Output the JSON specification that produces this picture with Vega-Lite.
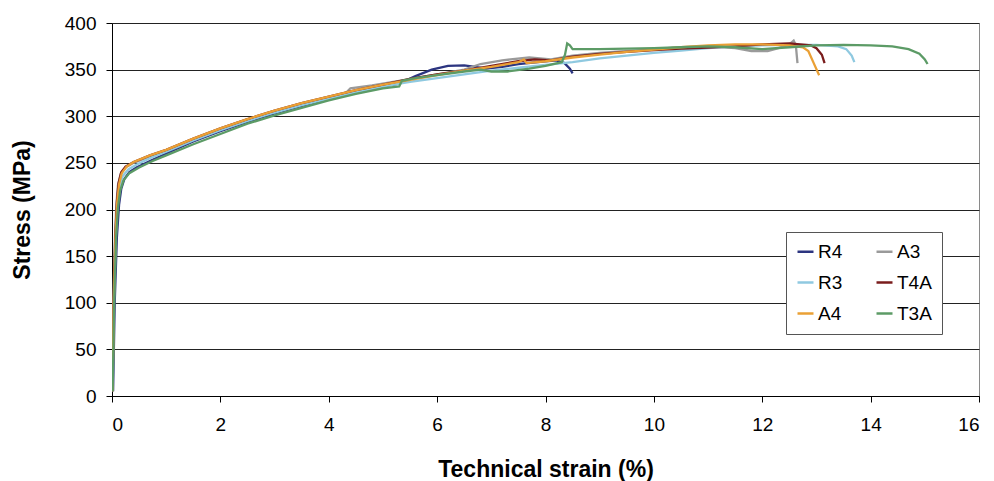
{
  "$schema": "https://vega.github.io/schema/vega-lite/v6.json",
  "width": 867,
  "height": 373,
  "autosize": {"type": "none"},
  "padding": {"left": 112, "top": 23, "right": 15, "bottom": 85},
  "background": "white",
  "config": {
    "font": "Liberation Sans",
    "view": {"stroke": "#8a8a8a", "strokeWidth": 1}
  },
  "data": {
    "values": [
      {"s": "R4", "x": 0.02, "y": 5}, {"s": "R4", "x": 0.05, "y": 100}, {"s": "R4", "x": 0.09, "y": 170}, {"s": "R4", "x": 0.13, "y": 205}, {"s": "R4", "x": 0.17, "y": 222}, {"s": "R4", "x": 0.23, "y": 233}, {"s": "R4", "x": 0.32, "y": 240}, {"s": "R4", "x": 0.45, "y": 245}, {"s": "R4", "x": 0.7, "y": 252}, {"s": "R4", "x": 1, "y": 260}, {"s": "R4", "x": 1.5, "y": 273}, {"s": "R4", "x": 2, "y": 284}, {"s": "R4", "x": 2.5, "y": 294}, {"s": "R4", "x": 3, "y": 303}, {"s": "R4", "x": 3.5, "y": 311}, {"s": "R4", "x": 4, "y": 319}, {"s": "R4", "x": 4.5, "y": 326}, {"s": "R4", "x": 5, "y": 332}, {"s": "R4", "x": 5.3, "y": 335}, {"s": "R4", "x": 5.6, "y": 343}, {"s": "R4", "x": 5.9, "y": 350}, {"s": "R4", "x": 6.2, "y": 354}, {"s": "R4", "x": 6.5, "y": 354.5}, {"s": "R4", "x": 6.7, "y": 353}, {"s": "R4", "x": 6.9, "y": 351}, {"s": "R4", "x": 7.2, "y": 353}, {"s": "R4", "x": 7.5, "y": 356}, {"s": "R4", "x": 8, "y": 359}, {"s": "R4", "x": 8.2, "y": 360}, {"s": "R4", "x": 8.35, "y": 357}, {"s": "R4", "x": 8.45, "y": 351}, {"s": "R4", "x": 8.5, "y": 346},

      {"s": "A3", "x": 0.005, "y": 5}, {"s": "A3", "x": 0.025, "y": 100}, {"s": "A3", "x": 0.055, "y": 170}, {"s": "A3", "x": 0.08, "y": 205}, {"s": "A3", "x": 0.11, "y": 226}, {"s": "A3", "x": 0.16, "y": 238}, {"s": "A3", "x": 0.25, "y": 245}, {"s": "A3", "x": 0.4, "y": 250}, {"s": "A3", "x": 0.7, "y": 257}, {"s": "A3", "x": 1, "y": 263}, {"s": "A3", "x": 1.5, "y": 275}, {"s": "A3", "x": 2, "y": 286}, {"s": "A3", "x": 2.5, "y": 296}, {"s": "A3", "x": 3, "y": 305}, {"s": "A3", "x": 3.5, "y": 313}, {"s": "A3", "x": 4, "y": 320}, {"s": "A3", "x": 4.3, "y": 324}, {"s": "A3", "x": 4.4, "y": 330}, {"s": "A3", "x": 4.8, "y": 333}, {"s": "A3", "x": 5.3, "y": 338}, {"s": "A3", "x": 5.6, "y": 341}, {"s": "A3", "x": 6, "y": 345}, {"s": "A3", "x": 6.5, "y": 350}, {"s": "A3", "x": 6.8, "y": 356}, {"s": "A3", "x": 7.2, "y": 360}, {"s": "A3", "x": 7.7, "y": 363}, {"s": "A3", "x": 7.9, "y": 362}, {"s": "A3", "x": 8.1, "y": 361}, {"s": "A3", "x": 8.5, "y": 365}, {"s": "A3", "x": 9, "y": 368}, {"s": "A3", "x": 9.5, "y": 370}, {"s": "A3", "x": 10, "y": 372}, {"s": "A3", "x": 10.5, "y": 374}, {"s": "A3", "x": 11, "y": 375}, {"s": "A3", "x": 11.5, "y": 373}, {"s": "A3", "x": 11.8, "y": 370}, {"s": "A3", "x": 12.1, "y": 370}, {"s": "A3", "x": 12.3, "y": 373}, {"s": "A3", "x": 12.5, "y": 377}, {"s": "A3", "x": 12.58, "y": 381}, {"s": "A3", "x": 12.62, "y": 376}, {"s": "A3", "x": 12.65, "y": 357},

      {"s": "R3", "x": 0.01, "y": 5}, {"s": "R3", "x": 0.035, "y": 100}, {"s": "R3", "x": 0.07, "y": 170}, {"s": "R3", "x": 0.1, "y": 205}, {"s": "R3", "x": 0.14, "y": 225}, {"s": "R3", "x": 0.2, "y": 236}, {"s": "R3", "x": 0.3, "y": 243}, {"s": "R3", "x": 0.45, "y": 248}, {"s": "R3", "x": 0.7, "y": 255}, {"s": "R3", "x": 1, "y": 262}, {"s": "R3", "x": 1.5, "y": 274}, {"s": "R3", "x": 2, "y": 285}, {"s": "R3", "x": 2.5, "y": 295}, {"s": "R3", "x": 3, "y": 304}, {"s": "R3", "x": 3.5, "y": 312}, {"s": "R3", "x": 4, "y": 319}, {"s": "R3", "x": 4.5, "y": 326}, {"s": "R3", "x": 5, "y": 332}, {"s": "R3", "x": 5.5, "y": 337}, {"s": "R3", "x": 6, "y": 341}, {"s": "R3", "x": 6.5, "y": 345}, {"s": "R3", "x": 7, "y": 349}, {"s": "R3", "x": 7.5, "y": 352}, {"s": "R3", "x": 8, "y": 355}, {"s": "R3", "x": 8.5, "y": 358}, {"s": "R3", "x": 9, "y": 362}, {"s": "R3", "x": 9.5, "y": 365}, {"s": "R3", "x": 10, "y": 368}, {"s": "R3", "x": 10.5, "y": 370.5}, {"s": "R3", "x": 11, "y": 373}, {"s": "R3", "x": 11.5, "y": 375}, {"s": "R3", "x": 12, "y": 376}, {"s": "R3", "x": 12.5, "y": 376.5}, {"s": "R3", "x": 13, "y": 376.5}, {"s": "R3", "x": 13.4, "y": 375}, {"s": "R3", "x": 13.55, "y": 372}, {"s": "R3", "x": 13.65, "y": 365}, {"s": "R3", "x": 13.7, "y": 358},

      {"s": "T4A", "x": 0.01, "y": 5}, {"s": "T4A", "x": 0.03, "y": 100}, {"s": "T4A", "x": 0.06, "y": 170}, {"s": "T4A", "x": 0.09, "y": 208}, {"s": "T4A", "x": 0.12, "y": 228}, {"s": "T4A", "x": 0.17, "y": 240}, {"s": "T4A", "x": 0.25, "y": 246}, {"s": "T4A", "x": 0.4, "y": 251}, {"s": "T4A", "x": 0.7, "y": 258}, {"s": "T4A", "x": 1, "y": 264}, {"s": "T4A", "x": 1.5, "y": 276}, {"s": "T4A", "x": 2, "y": 287}, {"s": "T4A", "x": 2.5, "y": 297}, {"s": "T4A", "x": 3, "y": 306}, {"s": "T4A", "x": 3.5, "y": 314}, {"s": "T4A", "x": 4, "y": 321}, {"s": "T4A", "x": 4.5, "y": 328}, {"s": "T4A", "x": 5, "y": 334}, {"s": "T4A", "x": 5.5, "y": 340}, {"s": "T4A", "x": 6, "y": 345}, {"s": "T4A", "x": 6.5, "y": 349}, {"s": "T4A", "x": 7, "y": 354}, {"s": "T4A", "x": 7.5, "y": 359}, {"s": "T4A", "x": 7.8, "y": 361}, {"s": "T4A", "x": 8.1, "y": 360}, {"s": "T4A", "x": 8.5, "y": 364}, {"s": "T4A", "x": 9, "y": 367}, {"s": "T4A", "x": 9.5, "y": 369}, {"s": "T4A", "x": 10, "y": 371}, {"s": "T4A", "x": 10.5, "y": 372.5}, {"s": "T4A", "x": 11, "y": 373.5}, {"s": "T4A", "x": 11.5, "y": 375}, {"s": "T4A", "x": 12, "y": 377}, {"s": "T4A", "x": 12.5, "y": 378}, {"s": "T4A", "x": 12.9, "y": 376}, {"s": "T4A", "x": 13, "y": 373}, {"s": "T4A", "x": 13.1, "y": 366}, {"s": "T4A", "x": 13.15, "y": 357},

      {"s": "A4", "x": 0.01, "y": 5}, {"s": "A4", "x": 0.032, "y": 100}, {"s": "A4", "x": 0.065, "y": 170}, {"s": "A4", "x": 0.095, "y": 207}, {"s": "A4", "x": 0.13, "y": 227}, {"s": "A4", "x": 0.18, "y": 239}, {"s": "A4", "x": 0.27, "y": 246}, {"s": "A4", "x": 0.4, "y": 251}, {"s": "A4", "x": 0.7, "y": 258}, {"s": "A4", "x": 1, "y": 264}, {"s": "A4", "x": 1.5, "y": 276}, {"s": "A4", "x": 2, "y": 287}, {"s": "A4", "x": 2.5, "y": 297}, {"s": "A4", "x": 3, "y": 306}, {"s": "A4", "x": 3.5, "y": 314}, {"s": "A4", "x": 4, "y": 321}, {"s": "A4", "x": 4.5, "y": 328}, {"s": "A4", "x": 5, "y": 334}, {"s": "A4", "x": 5.5, "y": 339}, {"s": "A4", "x": 6, "y": 344}, {"s": "A4", "x": 6.5, "y": 349}, {"s": "A4", "x": 7, "y": 353}, {"s": "A4", "x": 7.5, "y": 358}, {"s": "A4", "x": 7.6, "y": 361}, {"s": "A4", "x": 7.65, "y": 357}, {"s": "A4", "x": 8, "y": 359}, {"s": "A4", "x": 8.5, "y": 363}, {"s": "A4", "x": 9, "y": 366}, {"s": "A4", "x": 9.5, "y": 369}, {"s": "A4", "x": 10, "y": 371.5}, {"s": "A4", "x": 10.5, "y": 374}, {"s": "A4", "x": 11, "y": 376}, {"s": "A4", "x": 11.5, "y": 377}, {"s": "A4", "x": 12, "y": 377}, {"s": "A4", "x": 12.5, "y": 376}, {"s": "A4", "x": 12.75, "y": 374}, {"s": "A4", "x": 12.85, "y": 370}, {"s": "A4", "x": 12.95, "y": 357}, {"s": "A4", "x": 13.05, "y": 344},

      {"s": "T3A", "x": 0.012, "y": 5}, {"s": "T3A", "x": 0.04, "y": 100}, {"s": "T3A", "x": 0.075, "y": 170}, {"s": "T3A", "x": 0.11, "y": 202}, {"s": "T3A", "x": 0.15, "y": 220}, {"s": "T3A", "x": 0.21, "y": 231}, {"s": "T3A", "x": 0.32, "y": 239}, {"s": "T3A", "x": 0.5, "y": 245}, {"s": "T3A", "x": 0.75, "y": 252}, {"s": "T3A", "x": 1, "y": 258}, {"s": "T3A", "x": 1.5, "y": 270}, {"s": "T3A", "x": 2, "y": 281}, {"s": "T3A", "x": 2.5, "y": 292}, {"s": "T3A", "x": 3, "y": 301}, {"s": "T3A", "x": 3.5, "y": 309}, {"s": "T3A", "x": 4, "y": 317}, {"s": "T3A", "x": 4.5, "y": 324}, {"s": "T3A", "x": 5, "y": 330}, {"s": "T3A", "x": 5.3, "y": 332}, {"s": "T3A", "x": 5.35, "y": 338}, {"s": "T3A", "x": 5.6, "y": 341}, {"s": "T3A", "x": 6, "y": 344}, {"s": "T3A", "x": 6.5, "y": 348}, {"s": "T3A", "x": 6.8, "y": 350}, {"s": "T3A", "x": 7, "y": 348}, {"s": "T3A", "x": 7.3, "y": 348}, {"s": "T3A", "x": 7.7, "y": 351}, {"s": "T3A", "x": 8, "y": 354}, {"s": "T3A", "x": 8.3, "y": 358}, {"s": "T3A", "x": 8.36, "y": 366}, {"s": "T3A", "x": 8.4, "y": 378}, {"s": "T3A", "x": 8.45, "y": 376}, {"s": "T3A", "x": 8.5, "y": 372}, {"s": "T3A", "x": 9, "y": 372}, {"s": "T3A", "x": 9.5, "y": 372.5}, {"s": "T3A", "x": 10, "y": 373}, {"s": "T3A", "x": 10.5, "y": 374}, {"s": "T3A", "x": 11, "y": 375}, {"s": "T3A", "x": 11.5, "y": 374}, {"s": "T3A", "x": 12, "y": 372}, {"s": "T3A", "x": 12.5, "y": 374}, {"s": "T3A", "x": 13, "y": 376}, {"s": "T3A", "x": 13.5, "y": 376.5}, {"s": "T3A", "x": 14, "y": 376}, {"s": "T3A", "x": 14.4, "y": 375}, {"s": "T3A", "x": 14.7, "y": 372}, {"s": "T3A", "x": 14.9, "y": 367}, {"s": "T3A", "x": 15, "y": 361}, {"s": "T3A", "x": 15.05, "y": 356}
    ]
  },
  "mark": {"type": "line", "strokeWidth": 2.3, "clip": true},
  "encoding": {
    "x": {
      "field": "x",
      "type": "quantitative",
      "scale": {"domain": [0, 16], "nice": false},
      "axis": {
        "values": [0, 2, 4, 6, 8, 10, 12, 14, 16],
        "grid": false,
        "domainColor": "#000000",
        "tickColor": "#000000",
        "tickSize": 6,
        "labelFontSize": 19,
        "labelColor": "#000000",
        "labelPadding": 13,
        "title": "Technical strain (%)",
        "titleFontSize": 23,
        "titleFontWeight": "bold",
        "titleColor": "#000000",
        "titleBaseline": "alphabetic",
        "titleY": 80
      }
    },
    "y": {
      "field": "y",
      "type": "quantitative",
      "scale": {"domain": [0, 400], "nice": false},
      "axis": {
        "values": [0, 50, 100, 150, 200, 250, 300, 350, 400],
        "grid": true,
        "gridColor": "#222222",
        "gridWidth": 1,
        "domainColor": "#000000",
        "tickColor": "#000000",
        "tickSize": 6,
        "labelFontSize": 19,
        "labelColor": "#000000",
        "labelPadding": 10,
        "title": "Stress (MPa)",
        "titleFontSize": 23,
        "titleFontWeight": "bold",
        "titleColor": "#000000",
        "titleBaseline": "alphabetic",
        "titleX": -83
      }
    },
    "color": {
      "field": "s",
      "type": "nominal",
      "sort": ["R4", "A3", "R3", "T4A", "A4", "T3A"],
      "scale": {
        "domain": ["R4", "A3", "R3", "T4A", "A4", "T3A"],
        "range": ["#2c3580", "#9a9a9a", "#8fc9e0", "#7a1c1c", "#eaa035", "#5c9b66"]
      },
      "legend": {
        "title": null,
        "orient": "none",
        "legendX": 674,
        "legendY": 209,
        "columns": 2,
        "direction": "horizontal",
        "symbolType": "stroke",
        "symbolSize": 256,
        "symbolStrokeWidth": 2.5,
        "labelFontSize": 19,
        "labelColor": "#000000",
        "labelOffset": 3,
        "columnPadding": 28,
        "rowPadding": 11,
        "padding": 10,
        "strokeColor": "#555555",
        "fillColor": "#ffffff"
      }
    }
  }
}
